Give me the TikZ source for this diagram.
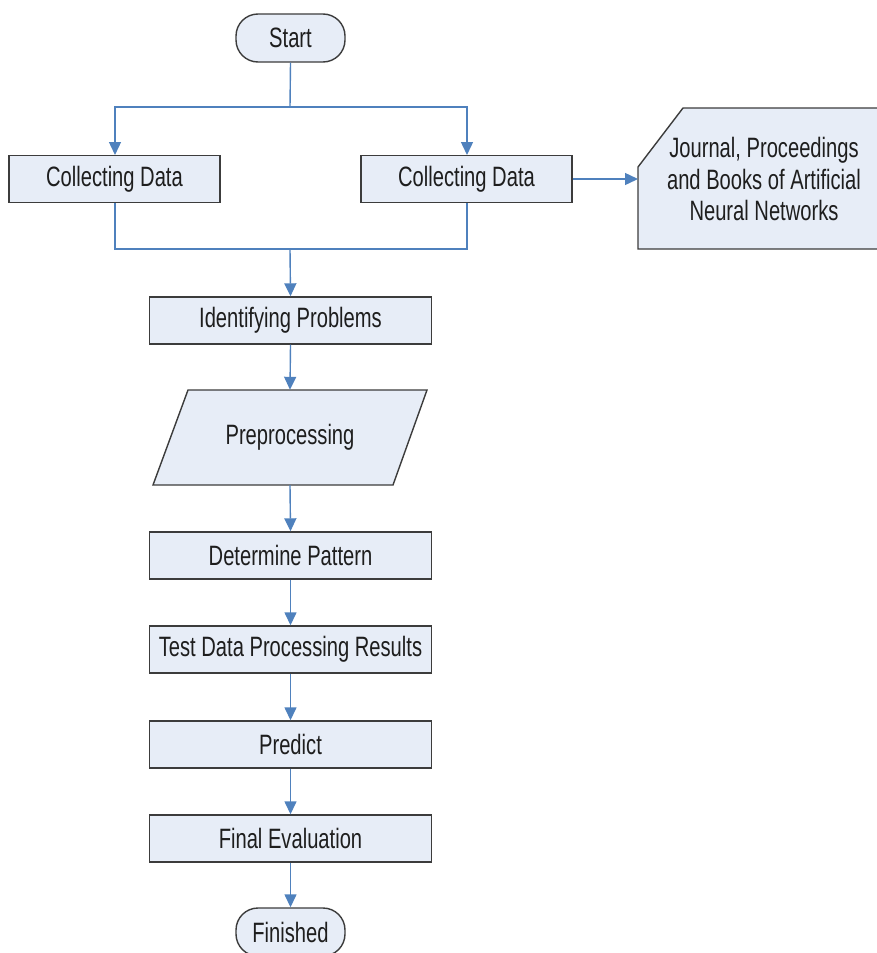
\documentclass[tikz,border=0pt]{standalone}
\usepackage{fontspec}
\setmainfont{Liberation Sans}[FakeStretch=0.72]
\usetikzlibrary{arrows.meta}
\definecolor{boxfill}{RGB}{231,237,247}
\definecolor{boxline}{RGB}{60,60,60}
\definecolor{connblue}{RGB}{79,129,189}
\definecolor{txt}{RGB}{30,30,30}
\begin{document}
\begin{tikzpicture}[x=1pt,y=-1pt,
  every node/.style={font=\fontsize{28}{31.5}\selectfont, text=txt},
  procbox/.style={draw=boxline, fill=boxfill, line width=1.4pt, inner sep=0pt, minimum height=47pt},
  termbox/.style={draw=boxline, fill=boxfill, line width=1.4pt, inner sep=0pt, minimum width=109pt, minimum height=48pt, rounded corners=22pt},
  conn/.style={draw=connblue, line width=1.4pt},
  arr/.style={conn, -{Triangle[length=13pt,width=12pt]}, color=connblue}
]
\useasboundingbox (0,0) rectangle (877,953);

% terminals
\node[termbox] (start) at (290.5,38) {Start};
\node[termbox] (fin) at (290.5,932) {Finished};

% collecting data
\node[procbox, minimum width=211pt] (cd1) at (114.5,179) {Collecting Data};
\node[procbox, minimum width=211pt] (cd2) at (466.5,179) {Collecting Data};

% card (external source)
\filldraw[draw=boxline, fill=boxfill, line width=1.4pt]
  (638,167) -- (683,108) -- (885,108) -- (885,249) -- (638,249) -- cycle;
\node[align=center] (card) at (764,179) {Journal, Proceedings\\and Books of Artificial\\Neural Networks};
\coordinate (cardw) at (638,179);

% main column
\node[procbox, minimum width=282pt] (idp) at (290.5,320.5) {Identifying Problems};
\filldraw[draw=boxline, fill=boxfill, line width=1.4pt]
  (188,390) -- (427,390) -- (393,485) -- (153,485) -- cycle;
\node[minimum width=200pt, minimum height=95pt, inner sep=0pt] (prep) at (290,437.5) {Preprocessing};
\node[procbox, minimum width=282pt] (dp) at (290.5,555.5) {Determine Pattern};
\node[procbox, minimum width=282pt] (tdp) at (290.5,649.5) {Test Data Processing Results};
\node[procbox, minimum width=282pt] (pred) at (290.5,744.5) {Predict};
\node[procbox, minimum width=282pt] (fe) at (290.5,838.5) {Final Evaluation};

% connectors
\coordinate (j1) at (290,107);
\coordinate (j2) at (290,249);
\draw[conn] (start.south) -- (j1);
\draw[arr] (j1) -| (115,155);
\draw[arr] (j1) -| (467,155);
\draw[conn] (115,203) |- (j2);
\draw[conn] (467,203) |- (j2);
\draw[arr] (j2) -- (idp.north);
\draw[arr] (cd2.east) -- (cardw);
\draw[arr] (idp.south) -- (prep.north);
\draw[arr] (prep.south) -- (dp.north);
\draw[arr] (dp.south) -- (tdp.north);
\draw[arr] (tdp.south) -- (pred.north);
\draw[arr] (pred.south) -- (fe.north);
\draw[arr] (fe.south) -- (fin.north);
\end{tikzpicture}
\end{document}
